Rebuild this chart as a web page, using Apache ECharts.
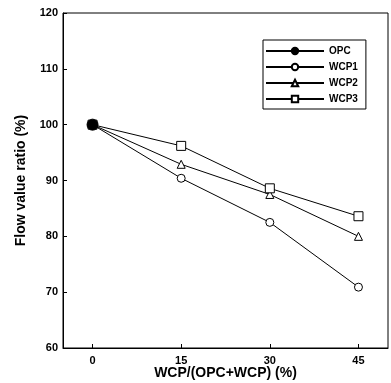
<!DOCTYPE html>
<html><head><meta charset="utf-8">
<script src="https://cdn.jsdelivr.net/npm/echarts@6/dist/echarts.min.js"></script>
<style>html,body{margin:0;padding:0;background:#fff}#c{width:391px;height:383px}</style>
</head><body><div id="c"></div>
<script>
var xTicks = [0, 15, 30, 45];
var opc = [[0, 100]];
var wcp1 = [[0, 100], [15, 90.4], [30, 82.5], [45, 70.9]];
var wcp2 = [[0, 100], [15, 92.9], [30, 87.5], [45, 80.0]];
var wcp3 = [[0, 100], [15, 96.2], [30, 88.6], [45, 83.6]];

var F = 'Liberation Sans, Arial, sans-serif';
function ser(name, data, symbol, size, fill) {
  return {
    name: name, type: 'line', data: data, symbol: symbol, symbolSize: size,
    showAllSymbol: true, z: name === 'OPC' ? 5 : 3,
    lineStyle: {color: '#000', width: 1},
    itemStyle: {color: fill, borderColor: '#000', borderWidth: 1},
    emphasis: {disabled: true}
  };
}
var chart = echarts.init(document.getElementById('c'));
chart.setOption({
  animation: false,
  backgroundColor: '#fff',
  grid: {left: 63, right: 3, top: 13, bottom: 35, show: true, borderColor: '#000', borderWidth: 1,
         containLabel: false, outerBoundsMode: 'none'},
  xAxis: {
    type: 'value', min: -5, max: 50,
    name: 'WCP/(OPC+WCP) (%)', nameLocation: 'middle', nameGap: 18, nameMoveOverlap: false,
    nameTextStyle: {fontFamily: F, fontWeight: 'bold', fontSize: 14, color: '#000'},
    axisLine: {onZero: false, lineStyle: {color: '#000', width: 1}},
    axisTick: {inside: true, length: 4, customValues: xTicks, lineStyle: {color: '#000'}},
    axisLabel: {customValues: xTicks, fontFamily: F, fontWeight: 'bold', fontSize: 11, color: '#000', margin: 7},
    splitLine: {show: false}
  },
  yAxis: {
    type: 'value', min: 60, max: 120, interval: 10,
    name: 'Flow value ratio (%)', nameLocation: 'middle', nameGap: 35, nameMoveOverlap: false,
    nameTextStyle: {fontFamily: F, fontWeight: 'bold', fontSize: 14, color: '#000'},
    axisLine: {show: true, onZero: false, lineStyle: {color: '#000', width: 1}},
    axisTick: {show: true, inside: true, length: 4, lineStyle: {color: '#000'}},
    axisLabel: {fontFamily: F, fontWeight: 'bold', fontSize: 11, color: '#000', margin: 5},
    splitLine: {show: false}
  },
  legend: {
    orient: 'vertical', left: 263, top: 40, width: 102,
    itemWidth: 58, itemHeight: 8, itemGap: 6,
    padding: [6, 8, 5, 2],
    borderColor: '#000', borderWidth: 1,
    textStyle: {fontFamily: F, fontWeight: 'bold', fontSize: 10, color: '#000', padding: [0, 0, 0, 0]},
    data: ['OPC', 'WCP1', 'WCP2', 'WCP3']
  },
  series: [
    ser('WCP1', wcp1, 'circle', 8, '#fff'),
    ser('WCP2', wcp2, 'triangle', 8, '#fff'),
    ser('WCP3', wcp3, 'rect', 9, '#fff'),
    ser('OPC', opc, 'circle', 11, '#000')
  ]
});
</script></body></html>
